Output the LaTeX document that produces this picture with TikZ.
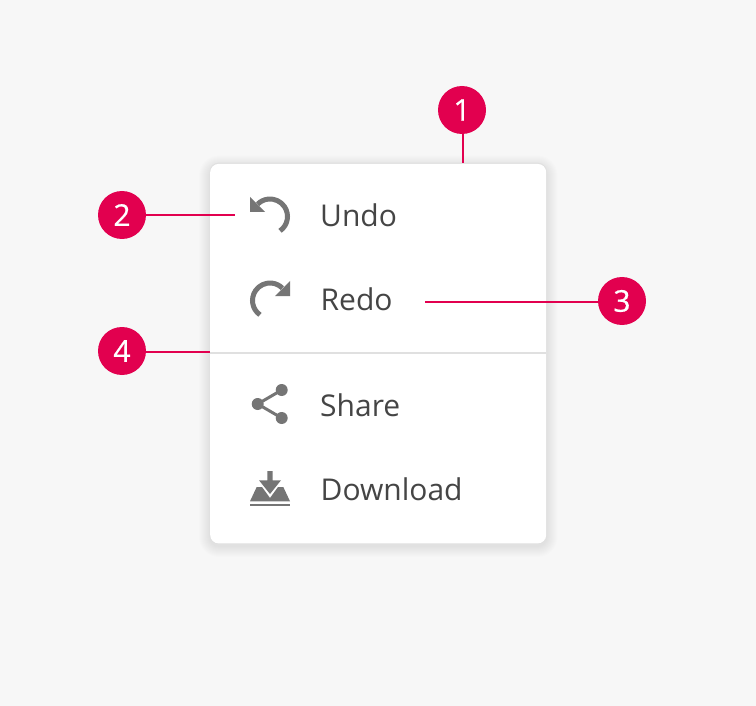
\documentclass[tikz,border=0pt]{standalone}
\usepackage{fontspec}
\setmainfont{Open Sans}
\definecolor{bgc}{HTML}{F7F7F7}
\definecolor{pinkc}{HTML}{E2004F}
\definecolor{iconc}{HTML}{757575}
\definecolor{textc}{HTML}{454545}
\definecolor{divc}{HTML}{E0E0E0}
\tikzset{
  badge/.style={circle,fill=pinkc,minimum size=48pt,inner sep=0pt,text=white,font=\fontsize{30}{30}\selectfont\addfontfeature{FakeBold=0.6}},
  leader/.style={draw=pinkc,line width=2pt},
  item/.style={anchor=base west,inner sep=0pt,text=textc,font=\fontsize{30}{36}\selectfont},
  icon/.style={fill=iconc,draw=none},
  iconline/.style={draw=iconc,line width=5pt},
}
\begin{document}
\begin{tikzpicture}[x=1pt,y=-1pt]
\useasboundingbox (0,0) rectangle (756,706);
\fill[bgc] (0,0) rectangle (756,706);
% soft shadow of the card
\foreach \g in {11,10,...,1}{
  \pgfmathsetmacro{\rr}{9+\g}
  \fill[black,opacity=0.009,rounded corners=\rr pt] (210-\g,163.5+3-\g) rectangle (546.5+\g,543+3+\g);
}
\node[fill=divc,rounded corners=9pt,minimum width=337pt,minimum height=381pt,inner sep=0pt,anchor=north west] (cardedge) at (209.5,162.5) {};
\node[fill=white,rounded corners=8.5pt,minimum width=336pt,minimum height=379.5pt,inner sep=0pt,anchor=north west] (card) at (210,163.7) {};
\draw[draw=divc,line width=1.6pt] (card.west |- 0,353) coordinate (divl) -- (card.east |- 0,353) coordinate (divr);
% icons: arcs about (270,216.5) and (270,300.5), radius 17.5
\path[iconline] ({270+17.5*cos(55)},{216.5+17.5*sin(55)}) arc[start angle=55,end angle=-135,radius=17.5];
\fill[icon] (250,197) -- (250,212) -- (265,212) -- cycle;
\path[iconline] ({270+17.5*cos(125)},{300.5+17.5*sin(125)}) arc[start angle=125,end angle=315,radius=17.5];
\fill[icon] (290,281) -- (290,296) -- (275,296) -- cycle;
\coordinate (sa) at (281.7,390);
\coordinate (sb) at (257.7,404);
\coordinate (sc) at (281.7,418);
\draw[draw=iconc,line width=3pt] (sa) -- (sb) -- (sc);
\fill[icon] (sa) circle (6) (sb) circle (6) (sc) circle (6);
\fill[icon] (250,501.3) -- (256.7,487) -- (262,487) -- (270,498) -- (278,487) -- (283.3,487) -- (290,501.3) -- cycle;
\fill[icon] (267.3,471) -- (272.7,471) -- (272.7,480.3) -- (281,480.3) -- (270,494) -- (259,480.3) -- (267.3,480.3) -- cycle;
\fill[icon] (250,503.7) rectangle (290,506);
% labels
\node[item] (undo) at (320,226.5) {Undo};
\node[item] (redo) at (320.5,310.5) {Redo};
\node[item] (share) at (320,416.3) {Share};
\node[item] (download) at (320.5,500.3) {Download};
% badges
\node[badge] (b1) at (462,110) {1};
\node[badge] (b2) at (122,215) {2};
\node[badge] (b3) at (622,301) {3};
\node[badge] (b4) at (122,351) {4};
\coordinate (e1) at (462.5,163);
\coordinate (e2) at (235,215.5);
\coordinate (e3) at (425,301.5);
\coordinate (e4) at (209.5,351.5);
\draw[leader] (b1.south -| e1) -- (e1);
\draw[leader] (b2.east |- e2) -- (e2);
\draw[leader] (b3.west |- e3) -- (e3);
\draw[leader] (b4.east |- e4) -- (e4);
\end{tikzpicture}
\end{document}
